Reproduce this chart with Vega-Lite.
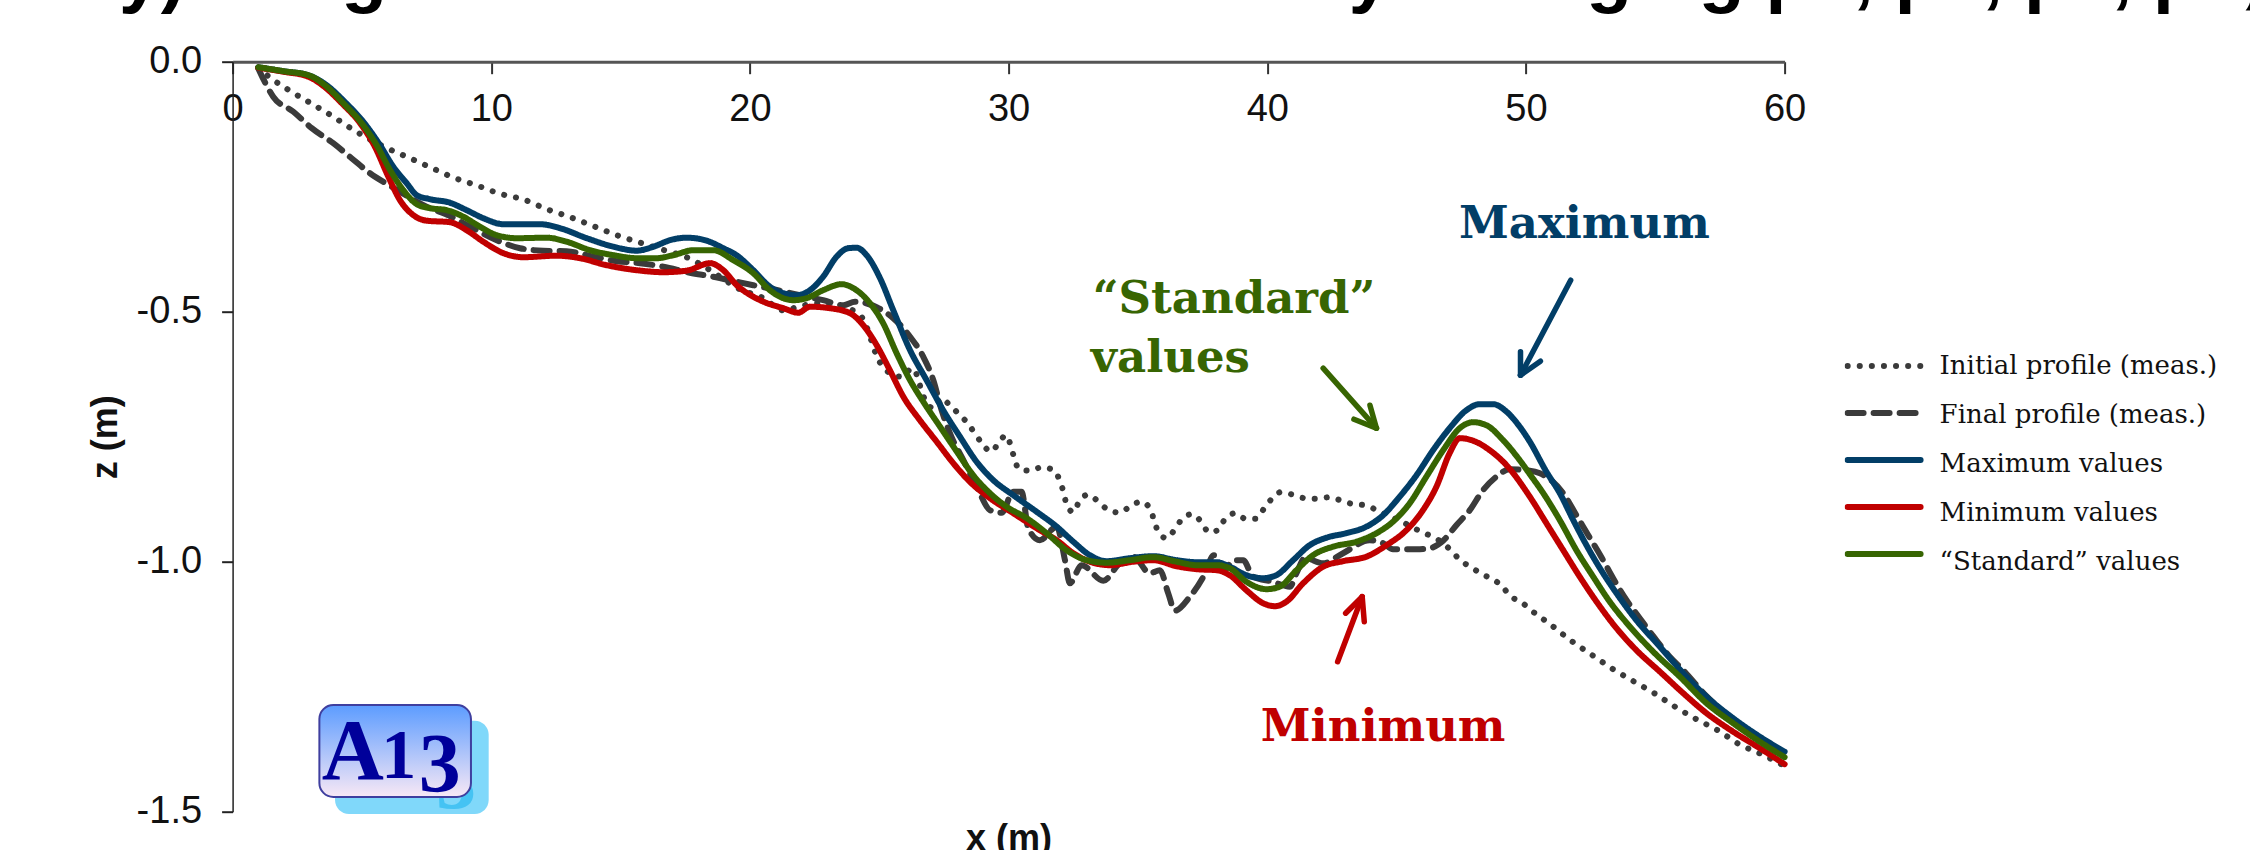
{"$schema":"https://vega.github.io/schema/vega-lite/v6.json","width":1552,"height":750,"autosize":{"type":"none"},"padding":{"left":232.6,"top":61.7,"right":465.4,"bottom":38.3},"background":"white","config":{"view":{"stroke":null},"style":{"legend-symbol":{"strokeCap":"round"}}},
"datasets":{
"profiles":[
{"series":"Initial profile (meas.)","x":0.99,"z":-0.012},{"series":"Initial profile (meas.)","x":1.38,"z":-0.029},{"series":"Initial profile (meas.)","x":2.18,"z":-0.057},{"series":"Initial profile (meas.)","x":2.99,"z":-0.082},{"series":"Initial profile (meas.)","x":3.83,"z":-0.108},{"series":"Initial profile (meas.)","x":4.63,"z":-0.135},{"series":"Initial profile (meas.)","x":5.85,"z":-0.17},{"series":"Initial profile (meas.)","x":6.77,"z":-0.191},{"series":"Initial profile (meas.)","x":7.64,"z":-0.211},{"series":"Initial profile (meas.)","x":8.51,"z":-0.231},{"series":"Initial profile (meas.)","x":9.42,"z":-0.247},{"series":"Initial profile (meas.)","x":10.34,"z":-0.264},{"series":"Initial profile (meas.)","x":11.27,"z":-0.276},{"series":"Initial profile (meas.)","x":12.15,"z":-0.295},{"series":"Initial profile (meas.)","x":13.06,"z":-0.311},{"series":"Initial profile (meas.)","x":13.96,"z":-0.329},{"series":"Initial profile (meas.)","x":14.86,"z":-0.347},{"series":"Initial profile (meas.)","x":15.76,"z":-0.362},{"series":"Initial profile (meas.)","x":16.68,"z":-0.377},{"series":"Initial profile (meas.)","x":17.55,"z":-0.391},{"series":"Initial profile (meas.)","x":18.46,"z":-0.417},{"series":"Initial profile (meas.)","x":18.84,"z":-0.43},{"series":"Initial profile (meas.)","x":19.6,"z":-0.455},{"series":"Initial profile (meas.)","x":20.52,"z":-0.473},{"series":"Initial profile (meas.)","x":20.9,"z":-0.487},{"series":"Initial profile (meas.)","x":21.35,"z":-0.498},{"series":"Initial profile (meas.)","x":21.8,"z":-0.491},{"series":"Initial profile (meas.)","x":22.7,"z":-0.483},{"series":"Initial profile (meas.)","x":23.5,"z":-0.49},{"series":"Initial profile (meas.)","x":24.06,"z":-0.5},{"series":"Initial profile (meas.)","x":24.41,"z":-0.518},{"series":"Initial profile (meas.)","x":24.74,"z":-0.565},{"series":"Initial profile (meas.)","x":24.9,"z":-0.589},{"series":"Initial profile (meas.)","x":25.15,"z":-0.61},{"series":"Initial profile (meas.)","x":25.48,"z":-0.625},{"series":"Initial profile (meas.)","x":25.86,"z":-0.63},{"series":"Initial profile (meas.)","x":26.28,"z":-0.613},{"series":"Initial profile (meas.)","x":26.51,"z":-0.635},{"series":"Initial profile (meas.)","x":26.64,"z":-0.66},{"series":"Initial profile (meas.)","x":27.09,"z":-0.693},{"series":"Initial profile (meas.)","x":27.37,"z":-0.673},{"series":"Initial profile (meas.)","x":27.73,"z":-0.687},{"series":"Initial profile (meas.)","x":28.08,"z":-0.705},{"series":"Initial profile (meas.)","x":28.4,"z":-0.722},{"series":"Initial profile (meas.)","x":28.69,"z":-0.743},{"series":"Initial profile (meas.)","x":28.97,"z":-0.763},{"series":"Initial profile (meas.)","x":29.32,"z":-0.78},{"series":"Initial profile (meas.)","x":29.61,"z":-0.763},{"series":"Initial profile (meas.)","x":29.9,"z":-0.747},{"series":"Initial profile (meas.)","x":30.09,"z":-0.769},{"series":"Initial profile (meas.)","x":30.22,"z":-0.793},{"series":"Initial profile (meas.)","x":30.4,"z":-0.815},{"series":"Initial profile (meas.)","x":30.82,"z":-0.818},{"series":"Initial profile (meas.)","x":31.29,"z":-0.811},{"series":"Initial profile (meas.)","x":31.74,"z":-0.817},{"series":"Initial profile (meas.)","x":31.98,"z":-0.838},{"series":"Initial profile (meas.)","x":32.13,"z":-0.862},{"series":"Initial profile (meas.)","x":32.25,"z":-0.887},{"series":"Initial profile (meas.)","x":32.51,"z":-0.901},{"series":"Initial profile (meas.)","x":32.73,"z":-0.879},{"series":"Initial profile (meas.)","x":33.08,"z":-0.866},{"series":"Initial profile (meas.)","x":33.47,"z":-0.88},{"series":"Initial profile (meas.)","x":33.84,"z":-0.896},{"series":"Initial profile (meas.)","x":34.3,"z":-0.902},{"series":"Initial profile (meas.)","x":34.7,"z":-0.889},{"series":"Initial profile (meas.)","x":35.13,"z":-0.88},{"series":"Initial profile (meas.)","x":35.48,"z":-0.895},{"series":"Initial profile (meas.)","x":35.63,"z":-0.918},{"series":"Initial profile (meas.)","x":35.79,"z":-0.941},{"series":"Initial profile (meas.)","x":36.11,"z":-0.953},{"series":"Initial profile (meas.)","x":36.43,"z":-0.935},{"series":"Initial profile (meas.)","x":36.7,"z":-0.915},{"series":"Initial profile (meas.)","x":37.09,"z":-0.905},{"series":"Initial profile (meas.)","x":37.46,"z":-0.921},{"series":"Initial profile (meas.)","x":37.74,"z":-0.941},{"series":"Initial profile (meas.)","x":38.09,"z":-0.937},{"series":"Initial profile (meas.)","x":38.36,"z":-0.915},{"series":"Initial profile (meas.)","x":38.76,"z":-0.903},{"series":"Initial profile (meas.)","x":39.16,"z":-0.914},{"series":"Initial profile (meas.)","x":39.57,"z":-0.914},{"series":"Initial profile (meas.)","x":39.86,"z":-0.895},{"series":"Initial profile (meas.)","x":40.16,"z":-0.875},{"series":"Initial profile (meas.)","x":40.52,"z":-0.861},{"series":"Initial profile (meas.)","x":40.99,"z":-0.866},{"series":"Initial profile (meas.)","x":41.45,"z":-0.873},{"series":"Initial profile (meas.)","x":41.93,"z":-0.874},{"series":"Initial profile (meas.)","x":42.4,"z":-0.871},{"series":"Initial profile (meas.)","x":42.87,"z":-0.878},{"series":"Initial profile (meas.)","x":43.33,"z":-0.885},{"series":"Initial profile (meas.)","x":43.81,"z":-0.887},{"series":"Initial profile (meas.)","x":44.23,"z":-0.897},{"series":"Initial profile (meas.)","x":44.67,"z":-0.907},{"series":"Initial profile (meas.)","x":45.12,"z":-0.918},{"series":"Initial profile (meas.)","x":45.95,"z":-0.94},{"series":"Initial profile (meas.)","x":46.38,"z":-0.95},{"series":"Initial profile (meas.)","x":46.8,"z":-0.963},{"series":"Initial profile (meas.)","x":47.15,"z":-0.98},{"series":"Initial profile (meas.)","x":47.48,"z":-0.998},{"series":"Initial profile (meas.)","x":47.89,"z":-1.011},{"series":"Initial profile (meas.)","x":48.29,"z":-1.025},{"series":"Initial profile (meas.)","x":48.73,"z":-1.035},{"series":"Initial profile (meas.)","x":49.09,"z":-1.05},{"series":"Initial profile (meas.)","x":49.4,"z":-1.069},{"series":"Initial profile (meas.)","x":49.83,"z":-1.081},{"series":"Initial profile (meas.)","x":50.2,"z":-1.097},{"series":"Initial profile (meas.)","x":50.96,"z":-1.126},{"series":"Initial profile (meas.)","x":51.72,"z":-1.157},{"series":"Initial profile (meas.)","x":52.51,"z":-1.185},{"series":"Initial profile (meas.)","x":53.31,"z":-1.213},{"series":"Initial profile (meas.)","x":54.12,"z":-1.238},{"series":"Initial profile (meas.)","x":54.96,"z":-1.263},{"series":"Initial profile (meas.)","x":55.76,"z":-1.29},{"series":"Initial profile (meas.)","x":56.59,"z":-1.315},{"series":"Initial profile (meas.)","x":57.44,"z":-1.338},{"series":"Initial profile (meas.)","x":58.24,"z":-1.365},{"series":"Initial profile (meas.)","x":59.11,"z":-1.385},{"series":"Initial profile (meas.)","x":59.94,"z":-1.407},
{"series":"Final profile (meas.)","x":0.99,"z":-0.013},{"series":"Final profile (meas.)","x":1.19,"z":-0.035},{"series":"Final profile (meas.)","x":1.57,"z":-0.07},{"series":"Final profile (meas.)","x":2.35,"z":-0.1},{"series":"Final profile (meas.)","x":3.06,"z":-0.133},{"series":"Final profile (meas.)","x":3.89,"z":-0.163},{"series":"Final profile (meas.)","x":4.6,"z":-0.193},{"series":"Final profile (meas.)","x":5.31,"z":-0.223},{"series":"Final profile (meas.)","x":6.15,"z":-0.25},{"series":"Final profile (meas.)","x":7.5,"z":-0.29},{"series":"Final profile (meas.)","x":8.34,"z":-0.307},{"series":"Final profile (meas.)","x":9.18,"z":-0.33},{"series":"Final profile (meas.)","x":10.21,"z":-0.357},{"series":"Final profile (meas.)","x":11.11,"z":-0.373},{"series":"Final profile (meas.)","x":12.01,"z":-0.378},{"series":"Final profile (meas.)","x":12.91,"z":-0.379},{"series":"Final profile (meas.)","x":13.95,"z":-0.39},{"series":"Final profile (meas.)","x":14.86,"z":-0.399},{"series":"Final profile (meas.)","x":15.75,"z":-0.403},{"series":"Final profile (meas.)","x":16.65,"z":-0.41},{"series":"Final profile (meas.)","x":17.68,"z":-0.422},{"series":"Final profile (meas.)","x":18.58,"z":-0.43},{"series":"Final profile (meas.)","x":19.49,"z":-0.44},{"series":"Final profile (meas.)","x":20.13,"z":-0.447},{"series":"Final profile (meas.)","x":21.16,"z":-0.458},{"series":"Final profile (meas.)","x":21.93,"z":-0.467},{"series":"Final profile (meas.)","x":22.83,"z":-0.477},{"series":"Final profile (meas.)","x":23.61,"z":-0.487},{"series":"Final profile (meas.)","x":24.06,"z":-0.48},{"series":"Final profile (meas.)","x":24.9,"z":-0.491},{"series":"Final profile (meas.)","x":25.54,"z":-0.513},{"series":"Final profile (meas.)","x":26.19,"z":-0.55},{"series":"Final profile (meas.)","x":26.7,"z":-0.59},{"series":"Final profile (meas.)","x":27.09,"z":-0.637},{"series":"Final profile (meas.)","x":27.41,"z":-0.697},{"series":"Final profile (meas.)","x":27.73,"z":-0.743},{"series":"Final profile (meas.)","x":28.25,"z":-0.797},{"series":"Final profile (meas.)","x":28.83,"z":-0.857},{"series":"Final profile (meas.)","x":29.28,"z":-0.897},{"series":"Final profile (meas.)","x":29.73,"z":-0.902},{"series":"Final profile (meas.)","x":30.18,"z":-0.86},{"series":"Final profile (meas.)","x":30.5,"z":-0.86},{"series":"Final profile (meas.)","x":30.76,"z":-0.933},{"series":"Final profile (meas.)","x":31.21,"z":-0.957},{"series":"Final profile (meas.)","x":31.86,"z":-0.93},{"series":"Final profile (meas.)","x":32.18,"z":-0.997},{"series":"Final profile (meas.)","x":32.37,"z":-1.043},{"series":"Final profile (meas.)","x":32.82,"z":-1.007},{"series":"Final profile (meas.)","x":33.66,"z":-1.038},{"series":"Final profile (meas.)","x":34.3,"z":-1.003},{"series":"Final profile (meas.)","x":34.82,"z":-0.99},{"series":"Final profile (meas.)","x":35.46,"z":-1.023},{"series":"Final profile (meas.)","x":35.85,"z":-1.017},{"series":"Final profile (meas.)","x":36.17,"z":-1.063},{"series":"Final profile (meas.)","x":36.43,"z":-1.098},{"series":"Final profile (meas.)","x":37.01,"z":-1.07},{"series":"Final profile (meas.)","x":37.53,"z":-1.03},{"series":"Final profile (meas.)","x":37.94,"z":-0.987},{"series":"Final profile (meas.)","x":38.3,"z":-1.017},{"series":"Final profile (meas.)","x":38.72,"z":-0.997},{"series":"Final profile (meas.)","x":39.07,"z":-0.997},{"series":"Final profile (meas.)","x":39.45,"z":-1.03},{"series":"Final profile (meas.)","x":40.2,"z":-1.04},{"series":"Final profile (meas.)","x":40.87,"z":-1.05},{"series":"Final profile (meas.)","x":41.13,"z":-1.023},{"series":"Final profile (meas.)","x":41.45,"z":-0.993},{"series":"Final profile (meas.)","x":42.16,"z":-1.003},{"series":"Final profile (meas.)","x":42.93,"z":-0.983},{"series":"Final profile (meas.)","x":43.96,"z":-0.957},{"series":"Final profile (meas.)","x":44.48,"z":-0.963},{"series":"Final profile (meas.)","x":44.86,"z":-0.975},{"series":"Final profile (meas.)","x":45.77,"z":-0.975},{"series":"Final profile (meas.)","x":46.28,"z":-0.973},{"series":"Final profile (meas.)","x":46.8,"z":-0.958},{"series":"Final profile (meas.)","x":47.31,"z":-0.927},{"series":"Final profile (meas.)","x":47.83,"z":-0.897},{"series":"Final profile (meas.)","x":48.34,"z":-0.857},{"series":"Final profile (meas.)","x":48.86,"z":-0.83},{"series":"Final profile (meas.)","x":49.37,"z":-0.815},{"series":"Final profile (meas.)","x":50.02,"z":-0.817},{"series":"Final profile (meas.)","x":50.54,"z":-0.823},{"series":"Final profile (meas.)","x":51.44,"z":-0.863},{"series":"Final profile (meas.)","x":51.95,"z":-0.907},{"series":"Final profile (meas.)","x":52.41,"z":-0.947},{"series":"Final profile (meas.)","x":52.92,"z":-0.991},{"series":"Final profile (meas.)","x":53.37,"z":-1.033},{"series":"Final profile (meas.)","x":53.89,"z":-1.077},{"series":"Final profile (meas.)","x":54.4,"z":-1.113},{"series":"Final profile (meas.)","x":54.98,"z":-1.153},{"series":"Final profile (meas.)","x":55.56,"z":-1.19},{"series":"Final profile (meas.)","x":56.08,"z":-1.217},{"series":"Final profile (meas.)","x":57,"z":-1.27},{"series":"Final profile (meas.)","x":58,"z":-1.315},{"series":"Final profile (meas.)","x":59,"z":-1.35},{"series":"Final profile (meas.)","x":60,"z":-1.385},
{"series":"Maximum values","x":0.99,"z":-0.011},{"series":"Maximum values","x":1.96,"z":-0.019},{"series":"Maximum values","x":2.93,"z":-0.027},{"series":"Maximum values","x":3.66,"z":-0.048},{"series":"Maximum values","x":4.35,"z":-0.081},{"series":"Maximum values","x":5.05,"z":-0.12},{"series":"Maximum values","x":5.7,"z":-0.167},{"series":"Maximum values","x":6.21,"z":-0.21},{"series":"Maximum values","x":6.73,"z":-0.243},{"series":"Maximum values","x":7.12,"z":-0.267},{"series":"Maximum values","x":7.63,"z":-0.275},{"series":"Maximum values","x":8.4,"z":-0.282},{"series":"Maximum values","x":9.05,"z":-0.297},{"series":"Maximum values","x":9.69,"z":-0.313},{"series":"Maximum values","x":10.47,"z":-0.325},{"series":"Maximum values","x":11.88,"z":-0.325},{"series":"Maximum values","x":12.66,"z":-0.333},{"series":"Maximum values","x":13.69,"z":-0.353},{"series":"Maximum values","x":14.72,"z":-0.37},{"series":"Maximum values","x":15.62,"z":-0.378},{"series":"Maximum values","x":16.27,"z":-0.37},{"series":"Maximum values","x":16.91,"z":-0.357},{"series":"Maximum values","x":17.55,"z":-0.352},{"series":"Maximum values","x":18.33,"z":-0.358},{"series":"Maximum values","x":18.97,"z":-0.373},{"series":"Maximum values","x":19.48,"z":-0.387},{"series":"Maximum values","x":20.13,"z":-0.417},{"series":"Maximum values","x":20.77,"z":-0.45},{"series":"Maximum values","x":21.29,"z":-0.463},{"series":"Maximum values","x":21.8,"z":-0.467},{"series":"Maximum values","x":22.32,"z":-0.457},{"series":"Maximum values","x":22.83,"z":-0.43},{"series":"Maximum values","x":23.35,"z":-0.39},{"series":"Maximum values","x":23.8,"z":-0.373},{"series":"Maximum values","x":24.12,"z":-0.372},{"series":"Maximum values","x":24.51,"z":-0.387},{"series":"Maximum values","x":25.03,"z":-0.433},{"series":"Maximum values","x":25.54,"z":-0.497},{"series":"Maximum values","x":26.19,"z":-0.577},{"series":"Maximum values","x":26.83,"z":-0.637},{"series":"Maximum values","x":27.47,"z":-0.697},{"series":"Maximum values","x":28.12,"z":-0.75},{"series":"Maximum values","x":28.76,"z":-0.8},{"series":"Maximum values","x":29.41,"z":-0.837},{"series":"Maximum values","x":30.18,"z":-0.867},{"series":"Maximum values","x":31.08,"z":-0.9},{"series":"Maximum values","x":31.86,"z":-0.93},{"series":"Maximum values","x":32.5,"z":-0.96},{"series":"Maximum values","x":33.14,"z":-0.987},{"series":"Maximum values","x":33.79,"z":-0.999},{"series":"Maximum values","x":34.69,"z":-0.993},{"series":"Maximum values","x":35.59,"z":-0.989},{"series":"Maximum values","x":36.49,"z":-0.997},{"series":"Maximum values","x":37.27,"z":-1.001},{"series":"Maximum values","x":38.04,"z":-1.001},{"series":"Maximum values","x":38.55,"z":-1.01},{"series":"Maximum values","x":39.19,"z":-1.027},{"series":"Maximum values","x":39.84,"z":-1.033},{"series":"Maximum values","x":40.35,"z":-1.027},{"series":"Maximum values","x":41,"z":-0.997},{"series":"Maximum values","x":41.64,"z":-0.967},{"series":"Maximum values","x":42.29,"z":-0.952},{"series":"Maximum values","x":43.06,"z":-0.943},{"series":"Maximum values","x":43.83,"z":-0.93},{"series":"Maximum values","x":44.48,"z":-0.907},{"series":"Maximum values","x":45.12,"z":-0.87},{"series":"Maximum values","x":45.77,"z":-0.827},{"series":"Maximum values","x":46.41,"z":-0.777},{"series":"Maximum values","x":47.05,"z":-0.733},{"series":"Maximum values","x":47.7,"z":-0.697},{"series":"Maximum values","x":48.21,"z":-0.685},{"series":"Maximum values","x":48.73,"z":-0.685},{"series":"Maximum values","x":49.25,"z":-0.7},{"series":"Maximum values","x":49.76,"z":-0.73},{"series":"Maximum values","x":50.15,"z":-0.76},{"series":"Maximum values","x":50.79,"z":-0.82},{"series":"Maximum values","x":51.31,"z":-0.863},{"series":"Maximum values","x":51.83,"z":-0.917},{"series":"Maximum values","x":52.34,"z":-0.967},{"series":"Maximum values","x":52.86,"z":-1.013},{"series":"Maximum values","x":53.5,"z":-1.063},{"series":"Maximum values","x":54.27,"z":-1.117},{"series":"Maximum values","x":55.18,"z":-1.17},{"series":"Maximum values","x":56.08,"z":-1.223},{"series":"Maximum values","x":56.98,"z":-1.27},{"series":"Maximum values","x":58.01,"z":-1.313},{"series":"Maximum values","x":59.04,"z":-1.35},{"series":"Maximum values","x":60,"z":-1.38},
{"series":"Minimum values","x":0.99,"z":-0.012},{"series":"Minimum values","x":1.96,"z":-0.02},{"series":"Minimum values","x":2.93,"z":-0.03},{"series":"Minimum values","x":3.57,"z":-0.051},{"series":"Minimum values","x":4.22,"z":-0.083},{"series":"Minimum values","x":4.93,"z":-0.123},{"series":"Minimum values","x":5.5,"z":-0.17},{"series":"Minimum values","x":6.02,"z":-0.23},{"series":"Minimum values","x":6.47,"z":-0.277},{"series":"Minimum values","x":6.99,"z":-0.307},{"series":"Minimum values","x":7.5,"z":-0.318},{"series":"Minimum values","x":8.4,"z":-0.321},{"series":"Minimum values","x":9.05,"z":-0.337},{"series":"Minimum values","x":9.69,"z":-0.36},{"series":"Minimum values","x":10.47,"z":-0.383},{"series":"Minimum values","x":11.24,"z":-0.391},{"series":"Minimum values","x":12.53,"z":-0.388},{"series":"Minimum values","x":13.43,"z":-0.393},{"series":"Minimum values","x":14.46,"z":-0.407},{"series":"Minimum values","x":15.62,"z":-0.417},{"series":"Minimum values","x":16.65,"z":-0.421},{"series":"Minimum values","x":17.55,"z":-0.418},{"series":"Minimum values","x":18.46,"z":-0.403},{"series":"Minimum values","x":18.97,"z":-0.417},{"series":"Minimum values","x":19.49,"z":-0.447},{"series":"Minimum values","x":20.13,"z":-0.47},{"series":"Minimum values","x":20.52,"z":-0.48},{"series":"Minimum values","x":21.29,"z":-0.493},{"series":"Minimum values","x":21.87,"z":-0.502},{"series":"Minimum values","x":22.32,"z":-0.49},{"series":"Minimum values","x":23.09,"z":-0.493},{"series":"Minimum values","x":23.87,"z":-0.503},{"series":"Minimum values","x":24.38,"z":-0.527},{"series":"Minimum values","x":24.9,"z":-0.567},{"series":"Minimum values","x":25.41,"z":-0.617},{"series":"Minimum values","x":25.93,"z":-0.67},{"series":"Minimum values","x":26.57,"z":-0.717},{"series":"Minimum values","x":27.22,"z":-0.76},{"series":"Minimum values","x":27.86,"z":-0.803},{"series":"Minimum values","x":28.5,"z":-0.84},{"series":"Minimum values","x":29.28,"z":-0.873},{"series":"Minimum values","x":30.18,"z":-0.903},{"series":"Minimum values","x":31.08,"z":-0.933},{"series":"Minimum values","x":31.86,"z":-0.957},{"series":"Minimum values","x":32.5,"z":-0.983},{"series":"Minimum values","x":33.14,"z":-1.0},{"series":"Minimum values","x":33.92,"z":-1.007},{"series":"Minimum values","x":34.82,"z":-1.0},{"series":"Minimum values","x":35.59,"z":-0.997},{"series":"Minimum values","x":36.49,"z":-1.009},{"series":"Minimum values","x":37.27,"z":-1.015},{"series":"Minimum values","x":38.04,"z":-1.017},{"series":"Minimum values","x":38.55,"z":-1.027},{"series":"Minimum values","x":39.19,"z":-1.057},{"series":"Minimum values","x":39.84,"z":-1.083},{"series":"Minimum values","x":40.29,"z":-1.089},{"series":"Minimum values","x":40.74,"z":-1.08},{"series":"Minimum values","x":41.39,"z":-1.043},{"series":"Minimum values","x":42.16,"z":-1.01},{"series":"Minimum values","x":42.93,"z":-0.999},{"series":"Minimum values","x":43.83,"z":-0.99},{"series":"Minimum values","x":44.61,"z":-0.967},{"series":"Minimum values","x":45.38,"z":-0.937},{"series":"Minimum values","x":46.02,"z":-0.897},{"series":"Minimum values","x":46.54,"z":-0.85},{"series":"Minimum values","x":47.05,"z":-0.783},{"series":"Minimum values","x":47.44,"z":-0.753},{"series":"Minimum values","x":47.96,"z":-0.758},{"series":"Minimum values","x":48.6,"z":-0.777},{"series":"Minimum values","x":49.25,"z":-0.807},{"series":"Minimum values","x":50.15,"z":-0.87},{"series":"Minimum values","x":50.79,"z":-0.923},{"series":"Minimum values","x":51.44,"z":-0.977},{"series":"Minimum values","x":52.08,"z":-1.03},{"series":"Minimum values","x":52.73,"z":-1.08},{"series":"Minimum values","x":53.5,"z":-1.133},{"series":"Minimum values","x":54.27,"z":-1.177},{"series":"Minimum values","x":55.18,"z":-1.22},{"series":"Minimum values","x":56.08,"z":-1.263},{"series":"Minimum values","x":56.98,"z":-1.303},{"series":"Minimum values","x":58.01,"z":-1.34},{"series":"Minimum values","x":59.04,"z":-1.373},{"series":"Minimum values","x":60,"z":-1.405},
{"series":"“Standard” values","x":0.99,"z":-0.011},{"series":"“Standard” values","x":1.96,"z":-0.019},{"series":"“Standard” values","x":2.93,"z":-0.027},{"series":"“Standard” values","x":3.64,"z":-0.05},{"series":"“Standard” values","x":4.28,"z":-0.083},{"series":"“Standard” values","x":4.99,"z":-0.123},{"series":"“Standard” values","x":5.57,"z":-0.167},{"series":"“Standard” values","x":6.09,"z":-0.217},{"series":"“Standard” values","x":6.6,"z":-0.257},{"series":"“Standard” values","x":7.12,"z":-0.285},{"series":"“Standard” values","x":7.63,"z":-0.293},{"series":"“Standard” values","x":8.28,"z":-0.297},{"series":"“Standard” values","x":8.92,"z":-0.31},{"series":"“Standard” values","x":9.56,"z":-0.33},{"series":"“Standard” values","x":10.21,"z":-0.347},{"series":"“Standard” values","x":10.98,"z":-0.353},{"series":"“Standard” values","x":12.14,"z":-0.352},{"series":"“Standard” values","x":12.91,"z":-0.36},{"series":"“Standard” values","x":13.82,"z":-0.377},{"series":"“Standard” values","x":14.72,"z":-0.387},{"series":"“Standard” values","x":15.62,"z":-0.393},{"series":"“Standard” values","x":16.39,"z":-0.393},{"series":"“Standard” values","x":17.04,"z":-0.387},{"series":"“Standard” values","x":17.81,"z":-0.377},{"series":"“Standard” values","x":18.58,"z":-0.377},{"series":"“Standard” values","x":19.36,"z":-0.397},{"series":"“Standard” values","x":20.13,"z":-0.423},{"series":"“Standard” values","x":20.77,"z":-0.457},{"series":"“Standard” values","x":21.29,"z":-0.473},{"series":"“Standard” values","x":21.67,"z":-0.477},{"series":"“Standard” values","x":22.19,"z":-0.473},{"series":"“Standard” values","x":22.83,"z":-0.457},{"series":"“Standard” values","x":23.54,"z":-0.445},{"series":"“Standard” values","x":24.12,"z":-0.457},{"series":"“Standard” values","x":24.64,"z":-0.483},{"series":"“Standard” values","x":25.15,"z":-0.523},{"series":"“Standard” values","x":25.67,"z":-0.583},{"series":"“Standard” values","x":26.19,"z":-0.637},{"series":"“Standard” values","x":26.7,"z":-0.68},{"series":"“Standard” values","x":27.35,"z":-0.73},{"series":"“Standard” values","x":28,"z":-0.78},{"series":"“Standard” values","x":28.63,"z":-0.827},{"series":"“Standard” values","x":29.28,"z":-0.863},{"series":"“Standard” values","x":29.92,"z":-0.89},{"series":"“Standard” values","x":30.7,"z":-0.913},{"series":"“Standard” values","x":31.47,"z":-0.943},{"series":"“Standard” values","x":32.24,"z":-0.977},{"series":"“Standard” values","x":33.02,"z":-0.997},{"series":"“Standard” values","x":33.79,"z":-1.002},{"series":"“Standard” values","x":34.69,"z":-0.997},{"series":"“Standard” values","x":35.59,"z":-0.991},{"series":"“Standard” values","x":36.49,"z":-1.0},{"series":"“Standard” values","x":37.27,"z":-1.007},{"series":"“Standard” values","x":38.04,"z":-1.007},{"series":"“Standard” values","x":38.55,"z":-1.013},{"series":"“Standard” values","x":39.19,"z":-1.04},{"series":"“Standard” values","x":39.97,"z":-1.055},{"series":"“Standard” values","x":40.48,"z":-1.05},{"series":"“Standard” values","x":41.13,"z":-1.017},{"series":"“Standard” values","x":41.77,"z":-0.987},{"series":"“Standard” values","x":42.54,"z":-0.97},{"series":"“Standard” values","x":43.45,"z":-0.96},{"series":"“Standard” values","x":44.22,"z":-0.943},{"series":"“Standard” values","x":44.86,"z":-0.92},{"series":"“Standard” values","x":45.51,"z":-0.883},{"series":"“Standard” values","x":46.15,"z":-0.83},{"series":"“Standard” values","x":46.8,"z":-0.777},{"series":"“Standard” values","x":47.44,"z":-0.733},{"series":"“Standard” values","x":47.96,"z":-0.721},{"series":"“Standard” values","x":48.47,"z":-0.727},{"series":"“Standard” values","x":49.12,"z":-0.757},{"series":"“Standard” values","x":49.76,"z":-0.797},{"series":"“Standard” values","x":50.15,"z":-0.825},{"series":"“Standard” values","x":50.67,"z":-0.863},{"series":"“Standard” values","x":51.31,"z":-0.917},{"series":"“Standard” values","x":51.95,"z":-0.977},{"series":"“Standard” values","x":52.6,"z":-1.03},{"series":"“Standard” values","x":53.24,"z":-1.08},{"series":"“Standard” values","x":54.02,"z":-1.13},{"series":"“Standard” values","x":54.92,"z":-1.18},{"series":"“Standard” values","x":55.95,"z":-1.23},{"series":"“Standard” values","x":56.98,"z":-1.283},{"series":"“Standard” values","x":58.01,"z":-1.323},{"series":"“Standard” values","x":59.04,"z":-1.36},{"series":"“Standard” values","x":60,"z":-1.391}
],
"arrows":[
{"series":"Maximum values","x":51.73,"z":-0.437,"x2":49.79,"z2":-0.627},{"series":"Maximum values","x":49.79,"z":-0.58,"x2":49.79,"z2":-0.627},{"series":"Maximum values","x":50.56,"z":-0.599,"x2":49.79,"z2":-0.627},
{"series":"“Standard” values","x":42.16,"z":-0.613,"x2":44.22,"z2":-0.733},{"series":"“Standard” values","x":43.97,"z":-0.687,"x2":44.22,"z2":-0.733},{"series":"“Standard” values","x":43.35,"z":-0.715,"x2":44.22,"z2":-0.733},
{"series":"Minimum values","x":42.72,"z":-1.2,"x2":43.67,"z2":-1.07},{"series":"Minimum values","x":43.03,"z":-1.103,"x2":43.67,"z2":-1.07},{"series":"Minimum values","x":43.75,"z":-1.12,"x2":43.67,"z2":-1.07}
],
"notes":[
{"series":"Maximum values","label":"Maximum","x":47.41,"z":-0.353},
{"series":"“Standard” values","label":"“Standard”","x":33.25,"z":-0.503},
{"series":"“Standard” values","label":"values","x":33.18,"z":-0.62},
{"series":"Minimum values","label":"Minimum","x":39.75,"z":-1.358}
],
"heading":[
{"label":"y)","x":-4.39,"z":0.125},
{"label":"using","x":-1.76,"z":0.125},
{"label":"by changing p1, p2, p3, p4,","x":41.38,"z":0.125}
]
},
"encoding":{
"x":{"field":"x","type":"quantitative","scale":{"domain":[0,60],"nice":false,"zero":false},"axis":{"values":[0,10,20,30,40,50,60],"format":"d","grid":false,"orient":"bottom","offset":-750,"domainColor":"#555555","domainWidth":3,"tickColor":"#333333","tickWidth":2,"tickSize":12,"labelFont":"Liberation Sans","labelFontSize":38,"labelColor":"#111111","labelPadding":17,"labelFlush":false,"labelOverlap":false,"labelBound":false,"title":"x (m)","titleFont":"Liberation Sans","titleFontWeight":"bold","titleFontSize":36,"titleColor":"#111111","titleBaseline":"alphabetic","titleY":788}},
"y":{"field":"z","type":"quantitative","scale":{"domain":[-1.5,0],"nice":false,"zero":false},"axis":{"values":[0,-0.5,-1,-1.5],"labelExpr":"replace(format(datum.value,'.1f'),'−','-')","grid":false,"domainColor":"#222222","domainWidth":1.5,"tickColor":"#222222","tickWidth":2,"tickSize":11,"labelFont":"Liberation Sans","labelFontSize":38,"labelColor":"#111111","labelPadding":20,"title":"z (m)","titleFont":"Liberation Sans","titleFontWeight":"bold","titleFontSize":36,"titleColor":"#111111","titleX":-116,"titleY":375,"titleBaseline":"alphabetic"}}
},
"layer":[
{"data":{"name":"profiles"},"mark":{"type":"line","interpolate":"monotone","strokeWidth":6,"strokeCap":"round","strokeJoin":"round"},
"encoding":{
"color":{"field":"series","type":"nominal","scale":{"domain":["Initial profile (meas.)","Final profile (meas.)","Maximum values","Minimum values","“Standard” values"],"range":["#3b3b3b","#3b3b3b","#023e67","#c00000","#376502"]},
"legend":{"title":null,"orient":"none","legendX":1612,"legendY":281,"symbolType":"stroke","symbolSize":5329,"symbolStrokeWidth":6,"clipHeight":46.6,"rowPadding":0,"padding":0,"labelOffset":16,"labelLimit":500,"labelFont":"DejaVu Serif","labelFontSize":26,"labelColor":"#111111","encoding":{"symbols":{"strokeCap":{"value":"round"}},"labels":{"dy":{"value":{"signal":"datum.index*1.9"}}}}}},
"strokeDash":{"field":"series","type":"nominal","scale":{"domain":["Initial profile (meas.)","Final profile (meas.)","Maximum values","Minimum values","“Standard” values"],"range":[[0.1,12],[16,10],[1,0],[1,0],[1,0]]},"legend":{"title":null}}
}},
{"data":{"name":"arrows"},"mark":{"type":"rule","strokeWidth":5.5,"strokeCap":"round"},"encoding":{"x2":{"field":"x2"},"y2":{"field":"z2"},"color":{"field":"series","type":"nominal","legend":null}}},
{"data":{"name":"notes"},"mark":{"type":"text","font":"DejaVu Serif","fontWeight":"bold","fontSize":45,"align":"left","baseline":"alphabetic"},"encoding":{"text":{"field":"label"},"color":{"field":"series","type":"nominal","legend":null}}},
{"data":{"name":"heading"},"mark":{"type":"text","font":"Liberation Sans","fontWeight":"bold","fontSize":75,"align":"left","baseline":"alphabetic","color":"#000000"},"encoding":{"text":{"field":"label"}}},
{"data":{"values":[{"x":3.96,"x2":9.9,"z":-1.318,"z2":-1.5046}]},"mark":{"type":"rect","fill":"#80d8fa","cornerRadius":14},"encoding":{"x2":{"field":"x2"},"y2":{"field":"z2"}}},
{"data":{"values":[{"label":"3","x":7.86,"z":-1.4926}]},"mark":{"type":"text","font":"Liberation Serif","fontWeight":"bold","fontSize":80,"align":"left","baseline":"alphabetic","color":"#45c3f3"},"encoding":{"text":{"field":"label"}}},
{"data":{"values":[{"x":3.355,"x2":9.215,"z":-1.2866,"z2":-1.4706}]},"mark":{"type":"rect","cornerRadius":14,"stroke":"#3f3f9f","strokeWidth":2,"fill":{"x1":0,"y1":0,"x2":0,"y2":1,"gradient":"linear","stops":[{"offset":0,"color":"#5c9cff"},{"offset":1,"color":"#f8e8f5"}]}},"encoding":{"x2":{"field":"x2"},"y2":{"field":"z2"}}},
{"data":{"values":[{"label":"A","x":3.45,"z":-1.4346}]},"mark":{"type":"text","font":"Liberation Serif","fontWeight":"bold","fontSize":86,"align":"left","baseline":"alphabetic","color":"#00009a"},"encoding":{"text":{"field":"label"}}},
{"data":{"values":[{"label":"3","x":7.2,"z":-1.4606}]},"mark":{"type":"text","font":"Liberation Serif","fontWeight":"bold","fontSize":84,"align":"left","baseline":"alphabetic","color":"#00009a"},"encoding":{"text":{"field":"label"}}},
{"data":{"values":[{"label":"1","x":5.75,"z":-1.4326}]},"mark":{"type":"text","font":"Liberation Serif","fontWeight":"bold","fontSize":70,"align":"left","baseline":"alphabetic","color":"#00009a"},"encoding":{"text":{"field":"label"}}}
]}
